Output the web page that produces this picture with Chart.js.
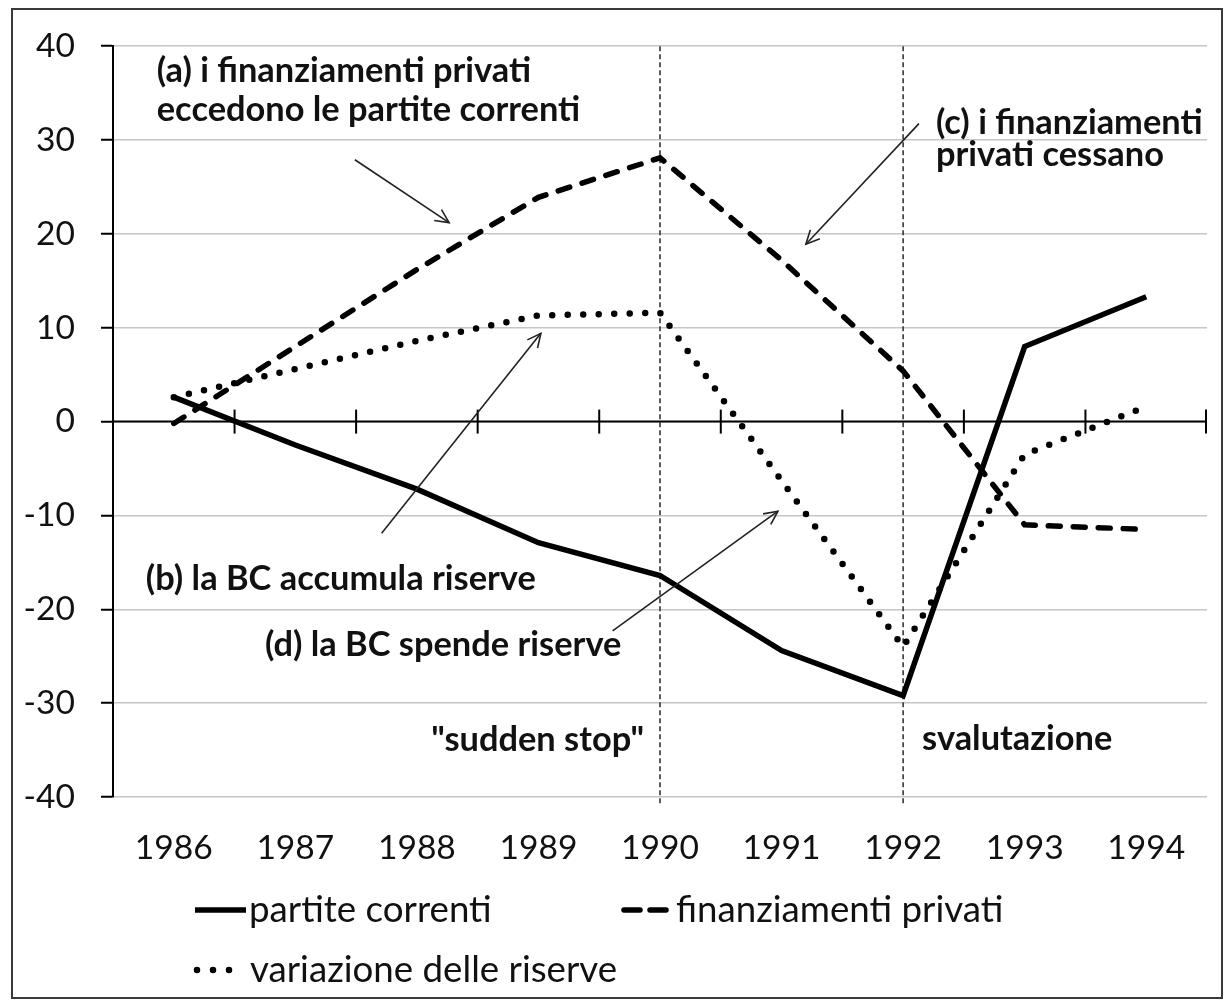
<!DOCTYPE html>
<html><head><meta charset="utf-8">
<script src="https://cdn.jsdelivr.net/npm/chart.js@4.4.1/dist/chart.umd.min.js"></script>
<style>html,body{margin:0;padding:0;background:#fff;}canvas{display:block;}</style>
</head><body>
<canvas id="c" width="1226" height="1003"></canvas>
<script>
// ---- data ----
const years = ['1986','1987','1988','1989','1990','1991','1992','1993','1994'];
const partiteCorrenti = [2.6, -2.5, -7.2, -12.9, -16.4, -24.4, -29.2, 8.0, 13.3];
const finanziamentiPrivati = [-0.2, 8.0, 16.2, 23.9, 28.1, 17.2, 5.4, -11.0, -11.5];
const variazioneRiserve = [2.6, 5.6, 8.6, 11.3, 11.6, -6.3, -24.0, -3.5, 1.6];
const seriesNames = ['partite correnti', 'finanziamenti privati', 'variazione delle riserve'];
const yMin = -40, yMax = 40, yStep = 10;
const eventYears = ['1990', '1992'];
const eventLabels = ['"sudden stop"', 'svalutazione'];
const noteTexts = [
  ['(a) i finanziamenti privati', 'eccedono le partite correnti'],
  ['(b) la BC accumula riserve'],
  ['(c) i finanziamenti', 'privati cessano'],
  ['(d) la BC spende riserve']
];

// ---- fonts ----
const FAMILY = 'Lato, "Open Sans", sans-serif';
function fitSize(text, weight, target) {
  const c = document.createElement('canvas').getContext('2d');
  c.font = weight + ' 100px ' + FAMILY;
  return Math.round(1000 * target / c.measureText(text).width) / 10;
}
const tickSize = fitSize('1986', 'normal', 78);
const legendSize = fitSize('partite correnti', 'normal', 243);
const noteSize = fitSize('(a) i finanziamenti privati', 'bold', 375);
const TEXT = '#111';

// ---- annotation placement (data coordinates: category index, value) ----
const noteLayout = [
  {x: -0.14, y: [37.35, 33.2]},
  {x: -0.23, y: [-16.8]},
  {x: 6.27, y: [31.8, 28.4]},
  {x: 0.75, y: [-23.8]}
];
const arrowLayout = [
  {from: [1.49, 27.9], to: [2.265, 21.2]},
  {from: [1.71, -11.9], to: [3.02, 9.4]},
  {from: [6.13, 31.75], to: [5.2, 18.9]},
  {from: [3.61, -22.3], to: [4.97, -9.55]}
];
const eventLayout = [
  {align: 'right', dx: -16, y: -33.9},
  {align: 'left', dx: 19, y: -33.8}
];
const legendLayout = [
  {s0: 195, s1: 246, tx: 249, y: 910, dash: [], cap: 'butt'},
  {s0: 624, s1: 666, tx: 676, y: 910, dash: [16, 10], cap: 'round'},
  {s0: 197, s1: 230, tx: 250, y: 970, dash: [0, 16], cap: 'round'}
];

const framePlugin = {
  id: 'frame',
  beforeDraw(chart) {
    const ctx = chart.ctx;
    ctx.save();
    ctx.fillStyle = '#fff';
    ctx.fillRect(0, 0, chart.width, chart.height);
    ctx.strokeStyle = '#3a3a3a';
    ctx.lineWidth = 2;
    ctx.strokeRect(12, 9, 1210, 989);
    ctx.restore();
  }
};

const axisPlugin = {
  id: 'zeroAxis',
  beforeDatasetsDraw(chart) {
    const {ctx, chartArea: a, scales: {x, y}} = chart;
    const y0 = y.getPixelForValue(0);
    ctx.save();
    ctx.strokeStyle = '#2a2a2a';
    ctx.lineWidth = 1.5;
    ctx.setLineDash([5, 3]);
    eventYears.forEach(yr => {
      const px = x.getPixelForValue(years.indexOf(yr));
      ctx.beginPath(); ctx.moveTo(px, a.top); ctx.lineTo(px, a.bottom + 7); ctx.stroke();
    });
    ctx.setLineDash([]);
    ctx.strokeStyle = '#000';
    ctx.lineWidth = 2;
    ctx.beginPath(); ctx.moveTo(a.left, y0); ctx.lineTo(a.right, y0); ctx.stroke();
    const half = (x.getPixelForValue(1) - x.getPixelForValue(0)) / 2;
    for (let i = 0; i < years.length; i++) {
      const px = Math.min(x.getPixelForValue(i) + half, a.right - 1);
      ctx.beginPath(); ctx.moveTo(px, y0 - 12); ctx.lineTo(px, y0 + 12); ctx.stroke();
    }
    ctx.restore();
  }
};

function xAt(scale, idx) {
  const p0 = scale.getPixelForValue(0), p1 = scale.getPixelForValue(1);
  return p0 + idx * (p1 - p0);
}

const notesPlugin = {
  id: 'notes',
  afterDatasetsDraw(chart) {
    const {ctx, scales: {x, y}} = chart;
    ctx.save();
    ctx.fillStyle = TEXT;
    ctx.font = 'bold ' + noteSize + 'px ' + FAMILY;
    ctx.textBaseline = 'middle';
    ctx.textAlign = 'left';
    noteTexts.forEach((lines, i) => {
      const L = noteLayout[i];
      lines.forEach((t, j) => ctx.fillText(t, xAt(x, L.x), y.getPixelForValue(L.y[j])));
    });
    eventLabels.forEach((t, i) => {
      const E = eventLayout[i];
      ctx.textAlign = E.align;
      ctx.fillText(t, x.getPixelForValue(years.indexOf(eventYears[i])) + E.dx, y.getPixelForValue(E.y));
    });
    ctx.strokeStyle = '#222';
    ctx.lineWidth = 1.6;
    arrowLayout.forEach(A => {
      const x1 = xAt(x, A.from[0]), y1 = y.getPixelForValue(A.from[1]);
      const x2 = xAt(x, A.to[0]), y2 = y.getPixelForValue(A.to[1]);
      ctx.beginPath(); ctx.moveTo(x1, y1); ctx.lineTo(x2, y2); ctx.stroke();
      const ang = Math.atan2(y2 - y1, x2 - x1), len = 15, spread = 0.45;
      ctx.beginPath();
      ctx.moveTo(x2 - len * Math.cos(ang - spread), y2 - len * Math.sin(ang - spread));
      ctx.lineTo(x2, y2);
      ctx.lineTo(x2 - len * Math.cos(ang + spread), y2 - len * Math.sin(ang + spread));
      ctx.stroke();
    });
    ctx.restore();
  }
};

const legendPlugin = {
  id: 'customLegend',
  afterDraw(chart) {
    const ctx = chart.ctx;
    ctx.save();
    chart.data.datasets.forEach((ds, i) => {
      const L = legendLayout[i];
      ctx.strokeStyle = ds.borderColor;
      ctx.lineWidth = ds.borderWidth;
      ctx.lineCap = L.cap;
      ctx.setLineDash(L.dash);
      ctx.beginPath(); ctx.moveTo(L.s0, L.y); ctx.lineTo(L.s1, L.y); ctx.stroke();
      ctx.setLineDash([]);
      ctx.fillStyle = TEXT;
      ctx.font = legendSize + 'px ' + FAMILY;
      ctx.textBaseline = 'middle';
      ctx.textAlign = 'left';
      ctx.fillText(ds.label, L.tx, L.y);
    });
    ctx.restore();
  }
};

new Chart(document.getElementById('c'), {
  type: 'line',
  data: {
    labels: years,
    datasets: [
      {label: seriesNames[0], data: partiteCorrenti, borderColor: '#000', borderWidth: 5.5, pointRadius: 0, tension: 0, fill: false},
      {label: seriesNames[1], data: finanziamentiPrivati, borderColor: '#000', borderWidth: 5.5, borderDash: [12, 13], borderCapStyle: 'round', pointRadius: 0, tension: 0, fill: false},
      {label: seriesNames[2], data: variazioneRiserve, borderColor: '#000', borderWidth: 6.5, borderDash: [0, 15.5], borderCapStyle: 'round', pointRadius: 0, tension: 0, fill: false}
    ]
  },
  options: {
    responsive: false,
    animation: false,
    devicePixelRatio: 1,
    layout: {padding: {left: 0, right: 19, top: 43, bottom: 0}},
    plugins: {legend: {display: false}, tooltip: {enabled: false}},
    scales: {
      x: {
        type: 'category',
        offset: true,
        grid: {display: false, drawTicks: false},
        border: {display: false},
        ticks: {color: TEXT, font: {family: FAMILY, size: tickSize}, padding: 31, maxRotation: 0, autoSkip: false},
        afterFit(s) { s.height = 206; }
      },
      y: {
        min: yMin, max: yMax,
        grid: {color: '#c6c6c6', lineWidth: 1.5, drawTicks: true, tickLength: 12, tickColor: '#000', tickWidth: 2},
        border: {display: true, color: '#000', width: 2},
        ticks: {stepSize: yStep, color: TEXT, font: {family: FAMILY, size: tickSize}, padding: 26},
        afterFit(s) { s.width = 113; }
      }
    }
  },
  plugins: [framePlugin, axisPlugin, notesPlugin, legendPlugin]
});
</script>
</body></html>
